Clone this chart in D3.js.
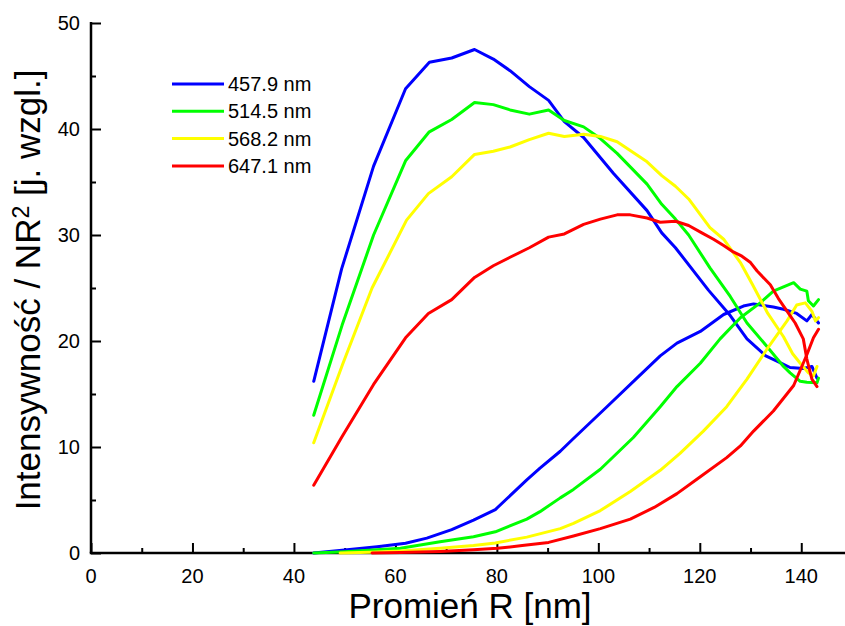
<!DOCTYPE html>
<html>
<head>
<meta charset="utf-8">
<script src="https://cdn.jsdelivr.net/npm/d3@7"></script>
<style>
  html, body { margin: 0; padding: 0; background: #fff; }
  svg { display: block; font-family: "Liberation Sans", Arial, sans-serif; }
</style>
</head>
<body>
<svg id="chart" width="845" height="626"></svg>
<script>
// Wavelengths (legend labels) and line colours
const labels = ["457.9 nm", "514.5 nm", "568.2 nm", "647.1 nm"];
const colors = ["#0000ff", "#00ff00", "#ffff00", "#ff0000"];

// Axis ticks
const xMajorTicks = [0, 20, 40, 60, 80, 100, 120, 140];
const xMinorTicks = [10, 30, 50, 70, 90, 110, 130, 150];
const yMajorTicks = [0, 10, 20, 30, 40, 50];
const yMinorTicks = [5, 15, 25, 35, 45];

// Upper branches: [R (nm), intensity / NR^2]
const upper4579 = [[43.9,16.2],[49.4,26.8],[55.7,36.5],[62,43.8],[66.7,46.3],[71.1,46.7],[75.6,47.5],[79.3,46.6],[82.6,45.5],[86.4,44.0],[90.2,42.7],[93.3,40.7],[97.1,39.2],[103,35.8],[109.6,32.3],[112.5,30.2],[115.2,28.8],[121.7,24.8],[126,22.4],[129.3,20.2],[133,18.6],[135.2,18.1],[137.8,17.5],[140.4,17.4],[142.1,17.6],[143.1,16.5]];
const upper5145 = [[43.9,13.0],[49.5,21.5],[55.7,30.0],[62,37.0],[66.6,39.7],[71.1,40.9],[75.6,42.5],[79.3,42.3],[82.6,41.8],[86.4,41.4],[90.2,41.8],[93.3,40.8],[97.1,40.2],[100.4,39.1],[103.7,37.7],[109.6,34.8],[112.5,32.9],[115.2,31.5],[117.8,30.0],[122,26.9],[126,24.2],[129.3,21.7],[133.2,19.5],[136.5,17.6],[137.8,17.0],[139.8,16.2],[141.1,16.1],[143.1,16.05],[143.4,16.5]];
const upper5682 = [[43.9,10.4],[49.6,17.8],[55.4,25.0],[62.2,31.4],[66.5,33.9],[71.1,35.5],[75.6,37.6],[79.3,37.9],[82.6,38.3],[86.4,39.0],[90.2,39.6],[93.3,39.3],[97.1,39.5],[100.4,39.3],[103.7,38.8],[109.6,36.9],[112.5,35.6],[115.2,34.6],[117.8,33.4],[122,30.7],[124.7,29.6],[128,27.4],[130.3,25.4],[133.4,22.6],[136.5,20.4],[138.3,18.8],[139.8,17.9],[141.4,17.0],[142.4,16.7],[143.1,17.6]];
const upper6471 = [[43.9,6.4],[49.5,11.0],[55.7,15.9],[62,20.3],[66.5,22.6],[71.1,23.9],[75.6,26.0],[79.3,27.1],[82.6,27.9],[86.4,28.8],[90.2,29.8],[93.3,30.1],[97.1,31.0],[100.4,31.5],[103.7,31.9],[106.3,31.9],[109.6,31.6],[112.2,31.2],[115.2,31.3],[117.8,30.9],[120.4,30.2],[122.7,29.6],[124.7,29.0],[126.6,28.4],[128.3,28.0],[130,27.4],[131.3,26.6],[133.9,25.3],[135.5,24.0],[137.8,22.4],[138.8,21.7],[140.4,20.2],[141.1,18.3],[142.1,16.4],[143.1,15.7]];

// Lower branches: [R (nm), intensity / NR^2]
const lower4579 = [[43.9,0],[50,0.28],[56.4,0.6],[62,0.92],[66.2,1.4],[71.1,2.2],[75.4,3.1],[79.7,4.1],[85.9,6.9],[88.5,8.0],[92.5,9.6],[95.1,10.8],[101.7,13.8],[107.6,16.5],[112.2,18.6],[115.5,19.8],[120.1,20.9],[124.7,22.5],[128.6,23.3],[130.6,23.5],[134.5,23.2],[136.5,23.0],[139.1,22.6],[141.1,21.9],[142.1,22.5],[143.4,21.7]];
const lower5145 = [[43.9,0],[50,0.12],[61,0.44],[68.8,1.07],[75.4,1.54],[79.7,2.0],[85.9,3.2],[88.5,3.9],[92.5,5.2],[95.1,6.0],[100.4,7.9],[106.9,10.9],[112.2,13.8],[115.5,15.7],[120.1,17.9],[124,20.2],[128,22.2],[131.9,23.6],[134.5,24.7],[136.5,25.1],[138.5,25.5],[139.8,24.9],[141.1,24.7],[141.4,23.8],[142.4,23.3],[143.4,23.9]];
const lower5682 = [[49.1,0],[55,0.08],[61,0.2],[68.8,0.44],[75.4,0.7],[79.7,0.95],[85.9,1.5],[92.5,2.3],[95.1,2.8],[100.4,4.0],[106.3,5.8],[112.2,7.8],[116.1,9.4],[120.7,11.5],[125.3,13.8],[129.3,16.4],[133.2,19.2],[137.2,21.9],[139.1,23.4],[140.8,23.6],[142.1,22.8],[142.8,21.9],[143.4,22.2]];
const lower6471 = [[55.4,0],[61,0.05],[68.8,0.15],[75.4,0.3],[80.1,0.44],[85,0.7],[90.2,1.0],[95.1,1.6],[100.4,2.3],[106.3,3.2],[111,4.3],[115.5,5.6],[120.1,7.2],[125.3,9.0],[128,10.1],[130.6,11.5],[134.5,13.4],[138.5,15.8],[141.1,18.7],[142.4,20.3],[143.4,21.1]];

const upperBranches = [upper4579, upper5145, upper5682, upper6471];
const lowerBranches = [lower4579, lower5145, lower5682, lower6471];

const svg = d3.select("#chart");
const x = d3.scaleLinear().domain([0, 150]).range([91, 852]);
const y = d3.scaleLinear().domain([0, 50]).range([553, 23]);

// Axes: ticks point inward
const gx = svg.append("g").attr("transform", `translate(0,${y(0)})`);
gx.call(d3.axisTop(x).tickValues(xMajorTicks).tickSize(10).tickFormat(""));
gx.append("g").call(d3.axisTop(x).tickValues(xMinorTicks).tickSize(5).tickFormat(""));
gx.selectAll(".domain").remove();
gx.selectAll("line").attr("stroke", "#000").attr("stroke-width", 2);

const gy = svg.append("g").attr("transform", `translate(${x(0)},0)`);
gy.call(d3.axisRight(y).tickValues(yMajorTicks).tickSize(10).tickFormat(""));
gy.append("g").call(d3.axisRight(y).tickValues(yMinorTicks).tickSize(5).tickFormat(""));
gy.selectAll(".domain").remove();
gy.selectAll("line").attr("stroke", "#000").attr("stroke-width", 2);

// Axis lines
svg.append("line").attr("x1", x(0) - 1.25).attr("x2", x(150)).attr("y1", y(0)).attr("y2", y(0))
  .attr("stroke", "#000").attr("stroke-width", 2.5);
svg.append("line").attr("x1", x(0)).attr("x2", x(0)).attr("y1", y(0)).attr("y2", y(50) - 1)
  .attr("stroke", "#000").attr("stroke-width", 2.5);

// Tick labels
svg.append("g").selectAll("text").data(xMajorTicks).join("text")
  .attr("x", d => x(d)).attr("y", 582.5).attr("text-anchor", "middle")
  .attr("font-size", 20).text(d => d);
svg.append("g").selectAll("text").data(yMajorTicks).join("text")
  .attr("x", 80).attr("y", d => y(d) + 7.3).attr("text-anchor", "end")
  .attr("font-size", 20).text(d => d);

// Axis titles
svg.append("text").attr("x", 470).attr("y", 618).attr("text-anchor", "middle")
  .attr("font-size", 35).text("Promień R [nm]");
const yt = svg.append("text").attr("transform", "translate(40,290) rotate(-90)")
  .attr("text-anchor", "middle").attr("font-size", 35);
yt.append("tspan").text("Intensywność / NR");
yt.append("tspan").attr("font-size", 23).attr("dy", -11).text("2");
yt.append("tspan").attr("dy", 11).text(" [j. wzgl.]");

// Data curves
const line = d3.line().x(d => x(d[0])).y(d => y(d[1]));
const curves = svg.append("g").attr("fill", "none").attr("stroke-width", 3)
  .attr("stroke-linejoin", "round").attr("stroke-linecap", "round");
colors.forEach((c, i) => {
  curves.append("path").datum(upperBranches[i]).attr("d", line).attr("stroke", c);
  curves.append("path").datum(lowerBranches[i]).attr("d", line).attr("stroke", c);
});

// Legend
const legend = svg.append("g");
labels.forEach((lab, i) => {
  const ly = 84 + i * 27.3;
  legend.append("line").attr("x1", 172).attr("x2", 224).attr("y1", ly).attr("y2", ly)
    .attr("stroke", colors[i]).attr("stroke-width", 3);
  legend.append("text").attr("x", 228).attr("y", ly + 7).attr("font-size", 20).text(lab);
});
</script>
</body>
</html>
